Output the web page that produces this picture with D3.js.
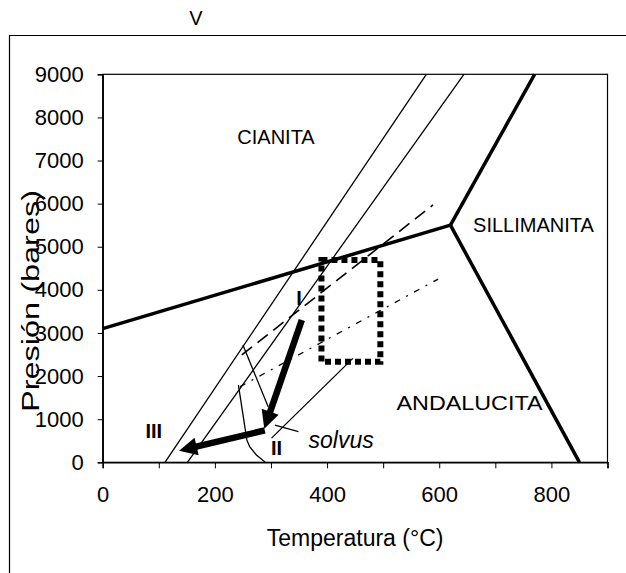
<!DOCTYPE html>
<html>
<head>
<meta charset="utf-8">
<script src="https://cdn.jsdelivr.net/npm/d3@7"></script>
<style>
  body { margin: 0; background: #fff; }
  svg { font-family: "Liberation Sans", Arial, sans-serif; }
</style>
</head>
<body>
<svg id="chart"></svg>
<script>
// phase boundaries Al2SiO5 (T in °C, P in bares)
const kyanAnd = [[0, 3100], [620, 5500]];
const kyanSil = [[620, 5500], [770, 9000]];
const andSil = [[620, 5500], [850, 0]];

// thin reaction lines
const thinA = [[111, 0], [577, 9000]];
const thinB = [[151, 0], [644, 9000]];
const thinC = [[301, 560], [446, 2410]];
const thinD = [[250, 2720], [295, 1290]];
const leader = [[307, 865], [349, 710]];

const dashed = [[248, 2490], [589, 5970]];
const dashDot = [[245, 1755], [598, 4250]];
const solvus = [[242, 1790], [257, 520], [262, 360], [274, 170], [286, 40], [290, 0]];

// P-T field box
const box = { t0: 390, t1: 495, p0: 2330, p1: 4690 };

// trajectory arrows
const arrowI = [[355, 3300], [286, 700]];
const arrowII = [[289, 740], [130, 250]];

const xTicks = [0, 100, 200, 300, 400, 500, 600, 700, 800, 900];
const yTicks = [0, 1000, 2000, 3000, 4000, 5000, 6000, 7000, 8000, 9000];

const regionLabels = [
  { text: "CIANITA", t: 309, p: 7377, len: null },
  { text: "SILLIMANITA", t: 768, p: 5340, len: null },
  { text: "ANDALUCITA", t: 654, p: 1210, len: 146 }
];
const romanLabels = [
  { text: "I", t: 350, p: 3650 },
  { text: "II", t: 310, p: 170 },
  { text: "III", t: 91, p: 565 }
];

const width = 626;
const height = 573;

const svg = d3.select("#chart")
  .attr("width", width)
  .attr("height", height);

const x = d3.scaleLinear().domain([0, 900]).range([102.7, 607.5]);
const y = d3.scaleLinear().domain([0, 9000]).range([462.3, 74.3]);

// outer frame
svg.append("path")
  .attr("d", `M9.5,${height + 2} V35.5 H${width + 2}`)
  .attr("fill", "none")
  .attr("stroke", "#000")
  .attr("stroke-width", 1.2);

svg.append("text")
  .attr("x", 196)
  .attr("y", 25)
  .attr("text-anchor", "middle")
  .attr("font-size", 20)
  .text("V");

// plot border
svg.append("rect")
  .attr("x", x(0))
  .attr("y", y(9000))
  .attr("width", x(900) - x(0))
  .attr("height", y(0) - y(9000))
  .attr("fill", "none")
  .attr("stroke", "#000")
  .attr("stroke-width", 1.2);

const xAxis = d3.axisBottom(x)
  .tickValues(xTicks)
  .tickFormat(d => d % 200 === 0 ? d : "")
  .tickSize(6)
  .tickPadding(18);

const yAxis = d3.axisLeft(y)
  .tickValues(yTicks)
  .tickFormat(d => d)
  .tickSize(5)
  .tickPadding(14);

svg.append("g")
  .attr("transform", `translate(0, ${y(0)})`)
  .call(xAxis)
  .call(g => g.select(".domain").attr("stroke-width", 1.5))
  .call(g => g.selectAll("text").attr("font-size", 22).attr("fill", "#000"));

svg.append("g")
  .attr("transform", `translate(${x(0)}, 0)`)
  .call(yAxis)
  .call(g => g.select(".domain").attr("stroke-width", 1.5))
  .call(g => g.selectAll("text").attr("font-size", 22).attr("fill", "#000"));

svg.append("text")
  .attr("x", (x(0) + x(900)) / 2)
  .attr("y", 546)
  .attr("text-anchor", "middle")
  .attr("font-size", 23)
  .text("Temperatura (°C)");

svg.append("text")
  .attr("transform", "translate(38.5, 301) rotate(-90)")
  .attr("text-anchor", "middle")
  .attr("font-size", 23)
  .attr("textLength", 222)
  .attr("lengthAdjust", "spacingAndGlyphs")
  .text("Presión (bares)");

const line = d3.line().x(d => x(d[0])).y(d => y(d[1]));

function draw(data, w, dash) {
  svg.append("path")
    .attr("d", line(data))
    .attr("fill", "none")
    .attr("stroke", "#000")
    .attr("stroke-width", w)
    .attr("stroke-dasharray", dash || null);
}

draw(thinA, 1.3);
draw(thinB, 1.3);
draw(thinC, 1.3);
draw(thinD, 1.3);
draw(leader, 1.3);
draw(dashed, 1.6, "13,7");
draw(dashDot, 1.3, "6,7,2,7");
draw(solvus, 1.3);

draw(kyanAnd, 3.5);
draw(kyanSil, 3.5);
draw(andSil, 3.5);

// dotted box
svg.append("rect")
  .attr("x", x(box.t0))
  .attr("y", y(box.p1))
  .attr("width", x(box.t1) - x(box.t0))
  .attr("height", y(box.p0) - y(box.p1))
  .attr("fill", "none")
  .attr("stroke", "#000")
  .attr("stroke-width", 6)
  .attr("stroke-dasharray", "6,4");

// arrows
svg.append("defs").append("marker")
  .attr("id", "head")
  .attr("viewBox", "0 0 10 10")
  .attr("refX", 2)
  .attr("refY", 5)
  .attr("markerUnits", "userSpaceOnUse")
  .attr("markerWidth", 22)
  .attr("markerHeight", 18)
  .attr("orient", "auto")
  .append("path")
  .attr("d", "M0,0 L10,5 L0,10 z")
  .attr("fill", "#000");

[arrowI, arrowII].forEach(a => {
  const [p0, p1] = a.map(d => [x(d[0]), y(d[1])]);
  const dx = p1[0] - p0[0], dy = p1[1] - p0[1];
  const len = Math.hypot(dx, dy);
  const end = [p1[0] - dx / len * 18, p1[1] - dy / len * 18];
  svg.append("path")
    .attr("d", `M${p0[0]},${p0[1]} L${end[0]},${end[1]}`)
    .attr("stroke", "#000")
    .attr("stroke-width", 6.5)
    .attr("marker-end", "url(#head)");
});

svg.selectAll(".region")
  .data(regionLabels)
  .enter()
  .append("text")
  .attr("class", "region")
  .attr("x", d => x(d.t))
  .attr("y", d => y(d.p))
  .attr("text-anchor", "middle")
  .attr("font-size", 20)
  .attr("textLength", d => d.len)
  .attr("lengthAdjust", "spacingAndGlyphs")
  .text(d => d.text);

svg.selectAll(".roman")
  .data(romanLabels)
  .enter()
  .append("text")
  .attr("class", "roman")
  .attr("x", d => x(d.t))
  .attr("y", d => y(d.p))
  .attr("text-anchor", "middle")
  .attr("font-size", 20)
  .attr("font-weight", "bold")
  .text(d => d.text);

svg.append("text")
  .attr("x", x(367))
  .attr("y", y(325))
  .attr("font-size", 23)
  .attr("font-style", "italic")
  .text("solvus");
</script>
</body>
</html>
